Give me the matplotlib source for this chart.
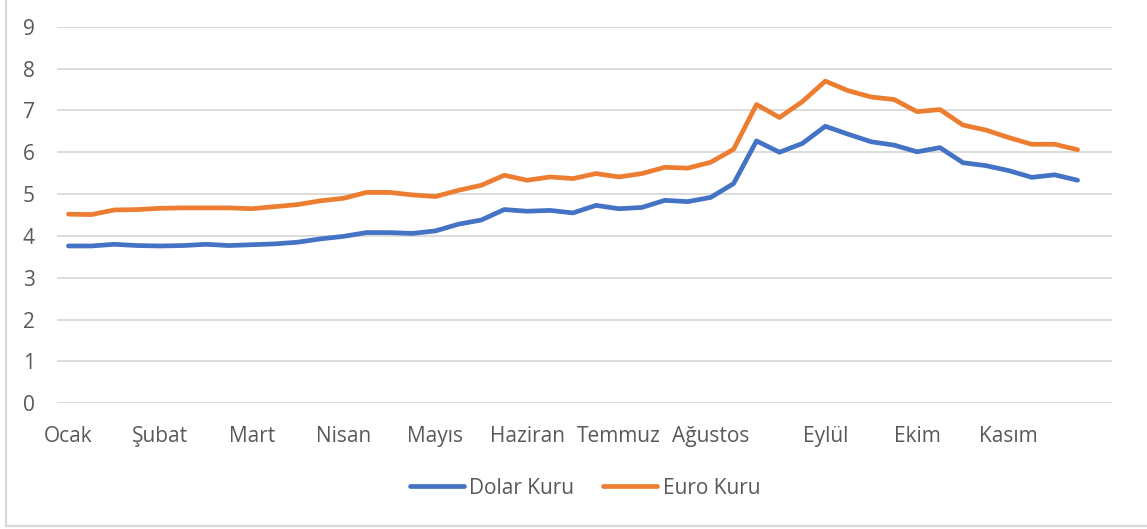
import matplotlib
matplotlib.use("Agg")
import matplotlib.pyplot as plt
from matplotlib.lines import Line2D

# ---- data ----
month_labels = ["Ocak", "", "", "", "Şubat", "", "", "", "Mart", "", "", "", "Nisan", "", "", "",
                "Mayıs", "", "", "", "Haziran", "", "", "", "Temmuz", "", "", "", "Ağustos", "", "", "", "",
                "Eylül", "", "", "", "Ekim", "", "", "", "Kasım", "", "", ""]
dolar = [3.76, 3.76, 3.80, 3.77, 3.76, 3.77, 3.80, 3.77, 3.79, 3.81, 3.85, 3.93, 3.99, 4.08, 4.08,
         4.06, 4.12, 4.28, 4.38, 4.63, 4.59, 4.61, 4.55, 4.73, 4.65, 4.68, 4.85, 4.82, 4.92, 5.25,
         6.27, 6.00, 6.21, 6.62, 6.43, 6.25, 6.17, 6.01, 6.11, 5.75, 5.68, 5.56, 5.40, 5.46, 5.33]
euro = [4.52, 4.51, 4.62, 4.63, 4.66, 4.67, 4.67, 4.67, 4.65, 4.70, 4.75, 4.84, 4.90, 5.04, 5.04,
        4.98, 4.94, 5.09, 5.21, 5.45, 5.33, 5.41, 5.37, 5.49, 5.41, 5.49, 5.64, 5.62, 5.76, 6.07,
        7.14, 6.83, 7.21, 7.70, 7.47, 7.32, 7.26, 6.97, 7.02, 6.65, 6.53, 6.35, 6.19, 6.19, 6.06]
series_names = ["Dolar Kuru", "Euro Kuru"]
y_ticks = list(range(0, 10))

W, H = 1147, 529
fig = plt.figure(figsize=(W / 100, H / 100), dpi=100)
plt.rcParams['font.family'] = ['Open Sans', 'DejaVu Sans']
text_color = "#595959"
grid_color = "#D9D9D9"

left, right, top, bottom = 57, 1112, 26.7, 403.3
ax = fig.add_axes([left / W, 1 - bottom / H, (right - left) / W, (bottom - top) / H])

x = list(range(len(dolar)))
ax.plot(x, dolar, color="#4472C4", lw=3.4, solid_capstyle="round", solid_joinstyle="round",
        label=series_names[0], zorder=3)
ax.plot(x, euro, color="#ED7D31", lw=3.4, solid_capstyle="round", solid_joinstyle="round",
        label=series_names[1], zorder=3)

ax.set_ylim(0, 9)
ax.set_xlim(-0.5, len(month_labels) + 0.5)
ax.set_yticks(y_ticks)
ax.set_yticklabels([str(v) for v in y_ticks])
ax.set_xticks(range(len(month_labels)))
ax.set_xticklabels(month_labels)
ax.yaxis.grid(True, color=grid_color, lw=1.3)
ax.set_axisbelow(True)
for s in ax.spines.values():
    s.set_visible(False)
ax.tick_params(axis="both", length=0, labelsize=15, colors=text_color)
ax.tick_params(axis="y", pad=16)
ax.tick_params(axis="x", pad=16)

fig.legend(loc="center", bbox_to_anchor=(585 / W, 1 - 488 / H), ncol=2, frameon=False,
           fontsize=15, labelcolor=text_color, handlelength=2.6, handletextpad=0.25,
           columnspacing=1.4)

# outer chart border (left and bottom visible)
fig.add_artist(Line2D([6 / W, 6 / W], [1 - 526 / H, 1.0], transform=fig.transFigure,
                      color=grid_color, lw=1.6))
fig.add_artist(Line2D([6 / W, 1.0], [1 - 526 / H, 1 - 526 / H], transform=fig.transFigure,
                      color=grid_color, lw=1.6))

fig.savefig("out.png", dpi=100)
